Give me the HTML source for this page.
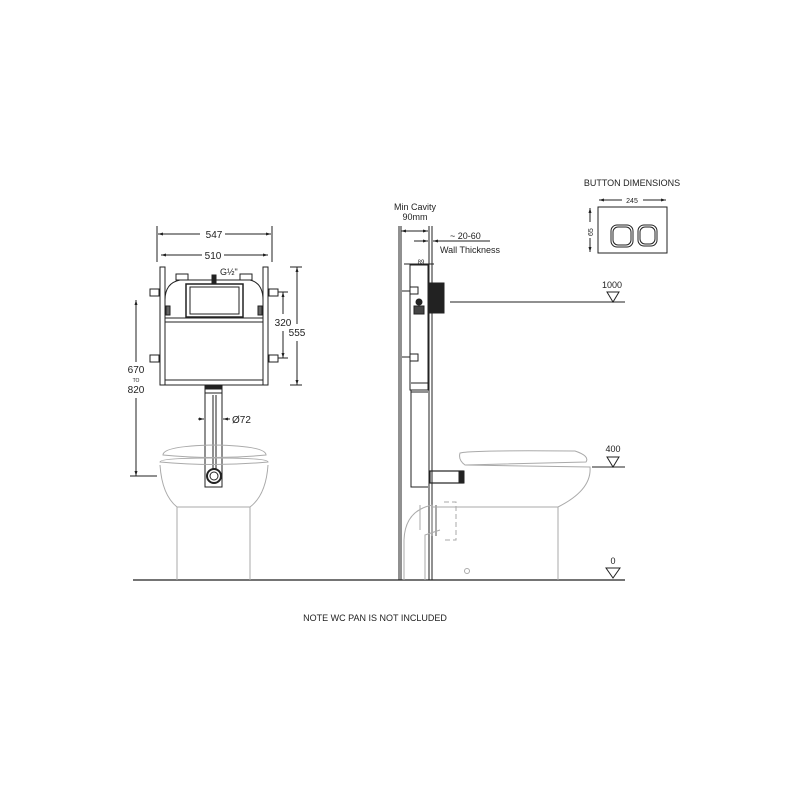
<!DOCTYPE html>
<html><head><style>
html,body{margin:0;padding:0;background:#fff;}
svg{display:block;font-family:"Liberation Sans",sans-serif;}
</style></head><body>
<svg width="800" height="800" viewBox="0 0 800 800" xmlns="http://www.w3.org/2000/svg">
<defs>
<marker id="a" viewBox="0 0 10 10" refX="10" refY="5" markerWidth="5" markerHeight="5" orient="auto-start-reverse"><path d="M0,2 L10,5 L0,8z" fill="#222"/></marker>
</defs>
<g fill="none" stroke="#222" stroke-width="1">
<!-- LEFT VIEW -->
<line x1="157" y1="226" x2="157" y2="262"/><line x1="272" y1="226" x2="272" y2="262"/>
<line x1="158" y1="234" x2="200" y2="234" marker-start="url(#a)"/><line x1="225" y1="234" x2="271" y2="234" marker-end="url(#a)"/>
<line x1="161" y1="255" x2="202" y2="255" marker-start="url(#a)"/><line x1="224" y1="255" x2="268" y2="255" marker-end="url(#a)"/>
<rect x="160" y="267" width="5" height="118"/><rect x="263" y="267" width="5" height="118"/>
<path d="M165,385 L263,385 M165,380 L263,380 M165,322 L263,322 M165,318 L263,318"/>
<path d="M165,300 Q165,283 180,280 L250,280 Q263,283 263,300"/>
<rect x="176" y="274" width="12" height="6"/><rect x="240" y="274" width="12" height="6"/>
<rect x="186" y="284" width="57" height="33" stroke-width="1.5"/><rect x="190" y="287" width="49" height="27"/>
<rect x="166" y="306" width="4" height="9" fill="#666"/><rect x="258" y="306" width="4" height="9" fill="#666"/>
<rect x="150" y="289" width="9" height="7"/><rect x="269" y="289" width="9" height="7"/>
<rect x="150" y="355" width="9" height="7"/><rect x="269" y="355" width="9" height="7"/>
<line x1="283" y1="292" x2="283" y2="314" marker-start="url(#a)"/><line x1="283" y1="331" x2="283" y2="358" marker-end="url(#a)"/>
<line x1="278" y1="292" x2="288" y2="292"/><line x1="278" y1="358" x2="288" y2="358"/>
<line x1="297" y1="267" x2="297" y2="324" marker-start="url(#a)"/><line x1="297" y1="341" x2="297" y2="385" marker-end="url(#a)"/>
<line x1="290" y1="267" x2="302" y2="267"/><line x1="290" y1="385" x2="302" y2="385"/>
<line x1="136" y1="300" x2="136" y2="362" marker-start="url(#a)"/><line x1="136" y1="398" x2="136" y2="476" marker-end="url(#a)"/>
<line x1="130" y1="476" x2="157" y2="476"/>
<path d="M205,387 L205,487 L222,487 L222,387 M213,395 L213,470 M216,395 L216,470 M205,393 L222,393" />
<rect x="205" y="385" width="17" height="4" fill="#222"/>
<circle cx="214" cy="476" r="7" stroke-width="2"/><circle cx="214" cy="476" r="4"/>
<line x1="198" y1="419" x2="204" y2="419" marker-end="url(#a)"/><line x1="230" y1="419" x2="223" y2="419" marker-end="url(#a)"/>
<path d="M212,283 L212,275 L216,275 L216,283 z" fill="#222"/>
<!-- SIDE VIEW -->
<path d="M399,226 L399,580 M401,226 L401,580 M429,226 L429,580 M432,226 L432,580"/>
<line x1="401" y1="231" x2="428" y2="231" marker-start="url(#a)" marker-end="url(#a)"/>
<line x1="414" y1="241" x2="428" y2="241" marker-end="url(#a)"/><line x1="433" y1="241" x2="490" y2="241" marker-start="url(#a)"/>
<rect x="410" y="265" width="18" height="125"/>
<path d="M411,390 L411,487 L428,487 M411,383 L428,383 M411,392 L428,392"/>
<line x1="404" y1="264" x2="434" y2="264"/>
<rect x="430" y="283" width="14" height="30" fill="#222"/>
<rect x="410" y="287" width="8" height="7"/><rect x="410" y="354" width="8" height="7"/>
<line x1="402" y1="291" x2="410" y2="291"/><line x1="402" y1="357" x2="410" y2="357"/>
<rect x="414" y="306" width="10" height="8" fill="#444"/><circle cx="419" cy="302" r="3" fill="#222"/>
<line x1="450" y1="302" x2="625" y2="302"/>
<path d="M607,292 L619,292 L613,302 z"/>
<line x1="592" y1="467" x2="625" y2="467"/>
<path d="M607,457 L619,457 L613,467 z"/>
<path d="M606,568 L620,568 L613,578 z"/>
<rect x="430" y="471" width="33" height="12" stroke-width="1.2"/>
<rect x="459" y="471" width="5" height="12" fill="#222"/>
<line x1="133" y1="580" x2="625" y2="580" stroke-width="1.2"/>
<!-- BUTTON -->
<rect x="598" y="207" width="69" height="46"/>
<line x1="599" y1="200" x2="622" y2="200" marker-start="url(#a)"/><line x1="643" y1="200" x2="666" y2="200" marker-end="url(#a)"/>
<line x1="590" y1="208" x2="590" y2="222" marker-start="url(#a)"/><line x1="590" y1="238" x2="590" y2="252" marker-end="url(#a)"/>
<rect x="611" y="225" width="22" height="22" rx="6"/><rect x="613" y="227" width="18" height="18" rx="5"/>
<rect x="638" y="225" width="19" height="21" rx="6"/><rect x="640" y="227" width="15" height="17" rx="5"/>
</g>
<!-- toilets grey -->
<g fill="none" stroke="#aaa" stroke-width="1">
<path d="M163,455 Q163,446 214,445 Q266,446 266,455 Q214,460 163,455z"/>
<path d="M160,462 Q160,458 214,458 Q268,458 268,462 Q214,467 160,462z"/>
<path d="M160,465 Q162,495 177,507 L250,507 Q266,495 268,465"/>
<path d="M177,507 L177,580 M250,507 L250,580"/>
<path d="M460,453 Q470,450 575,451 Q590,456 586,462 L465,465 Q458,460 460,453z"/>
<path d="M465,465 L590,467 Q592,490 558,507 L465,507"/>
<path d="M558,507 L558,580"/>
<path d="M432,507 L470,507"/>
<path d="M433,505 Q405,510 404,540 L404,580 M440,530 L425,535 L425,580 M420,505 L420,530"/>
<path d="M432,505 L432,536 M436,505 L436,536" stroke-width="2"/>
<path d="M444,502 L456,502 L456,540 L444,540" stroke-dasharray="5,3"/>
<circle cx="467" cy="571" r="2.5"/>
</g>
<g fill="#222" font-size="9">
<text x="214" y="238" text-anchor="middle" font-size="10">547</text>
<text x="213" y="259" text-anchor="middle" font-size="10">510</text>
<text x="220" y="275" font-size="9">G½"</text>
<text x="283" y="326" text-anchor="middle" font-size="10">320</text>
<text x="297" y="336" text-anchor="middle" font-size="10">555</text>
<text x="136" y="373" text-anchor="middle" font-size="10">670</text>
<text x="136" y="382" text-anchor="middle" font-size="5">TO</text>
<text x="136" y="393" text-anchor="middle" font-size="10">820</text>
<text x="232" y="423" font-size="10">Ø72</text>
<text x="415" y="210" text-anchor="middle">Min Cavity</text>
<text x="415" y="220" text-anchor="middle">90mm</text>
<text x="450" y="239">~ 20-60</text>
<text x="440" y="253">Wall Thickness</text>
<text x="421" y="264" text-anchor="middle" font-size="6">89</text>
<text x="612" y="288" text-anchor="middle">1000</text>
<text x="613" y="452" text-anchor="middle">400</text>
<text x="613" y="564" text-anchor="middle">0</text>
<text x="632" y="186" text-anchor="middle">BUTTON DIMENSIONS</text>
<text x="632" y="203" text-anchor="middle" font-size="7">245</text>
<text x="593" y="236" font-size="7" transform="rotate(-90 593 236)">65</text>
<text x="375" y="621" text-anchor="middle">NOTE WC PAN IS NOT INCLUDED</text>
</g>
</svg>
</body></html>
